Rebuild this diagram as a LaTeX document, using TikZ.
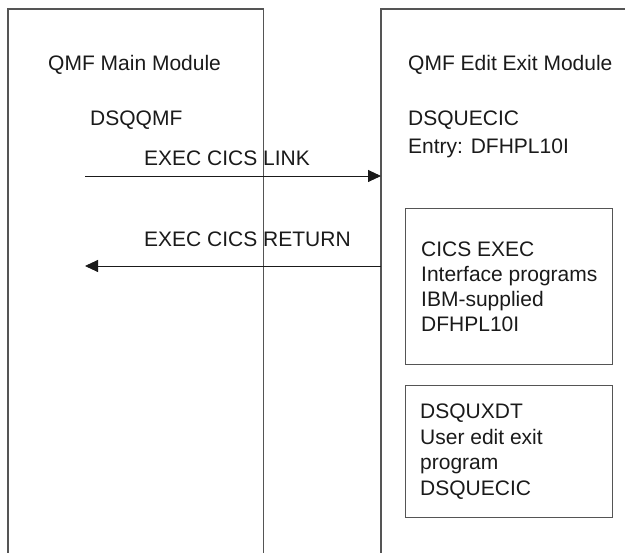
\documentclass[tikz,border=0pt]{standalone}
\usepackage{fontspec}
\setmainfont{Liberation Sans}
\usetikzlibrary{arrows.meta}
\definecolor{edge}{HTML}{555555}
\definecolor{ink}{HTML}{1A1A1A}
\tikzset{
  lbl/.style={anchor=base west, inner sep=0pt, text=ink, align=left,
    font=\fontsize{21}{25}\selectfont},
  frame/.style={draw=edge, line width=1.2pt},
  area/.style={inner sep=0pt, draw=none, anchor=north west},
  subbox/.style={draw=edge, line width=1.2pt, inner sep=0pt, anchor=north west},
  flow/.style={draw=ink, line width=0.9pt, -{Triangle[length=13pt,width=12pt]}}
}
\begin{document}
\begin{tikzpicture}[x=1pt,y=-1pt]
\useasboundingbox (0,0) rectangle (625,553);
% module areas (outline drawn as open frames)
\node[area, minimum width=255pt, minimum height=544pt] (main) at (8,9) {};
\node[area, minimum width=244pt, minimum height=544pt] (exitmod) at (381,9) {};
\draw[frame] (main.south west) -- (main.north west) -- (main.north east) -- (main.south east);
\draw[frame] (exitmod.south west) -- (exitmod.north west) -- (exitmod.north east);
% inner boxes
\node[subbox, minimum width=207pt, minimum height=156pt] (cicsbox) at (405,208) {};
\node[subbox, minimum width=207pt, minimum height=132pt] (userbox) at (405,385) {};
% texts (base anchor = baseline of the last line)
\node[lbl] (mainttl) at (48,71) {QMF Main Module};
\node[lbl] (dsqqmf) at (90,126) {DSQQMF};
\node[lbl] (linktxt) at (144,166) {EXEC CICS LINK};
\node[lbl] (rettxt) at (144,247) {EXEC CICS RETURN};
\node[lbl] (exitttl) at (408,71) {QMF Edit Exit Module};
\node[lbl] (exitname) at (408,154) {DSQUECIC\\[3pt]Entry: DFHPL10I};
\node[lbl] (cicstxt) at (421,332) {CICS EXEC\\Interface programs\\IBM-supplied\\DFHPL10I};
\node[lbl] (usertxt) at (420,496) {DSQUXDT\\[1pt]User edit exit\\program\\[1pt]DSQUECIC};
% connectors
\coordinate (linkstart) at (85,176);
\coordinate (retend) at (85,266);
\draw[flow] (linkstart) -- (exitmod.west |- linkstart);
\draw[flow] (exitmod.west |- retend) -- (retend);
\end{tikzpicture}
\end{document}
